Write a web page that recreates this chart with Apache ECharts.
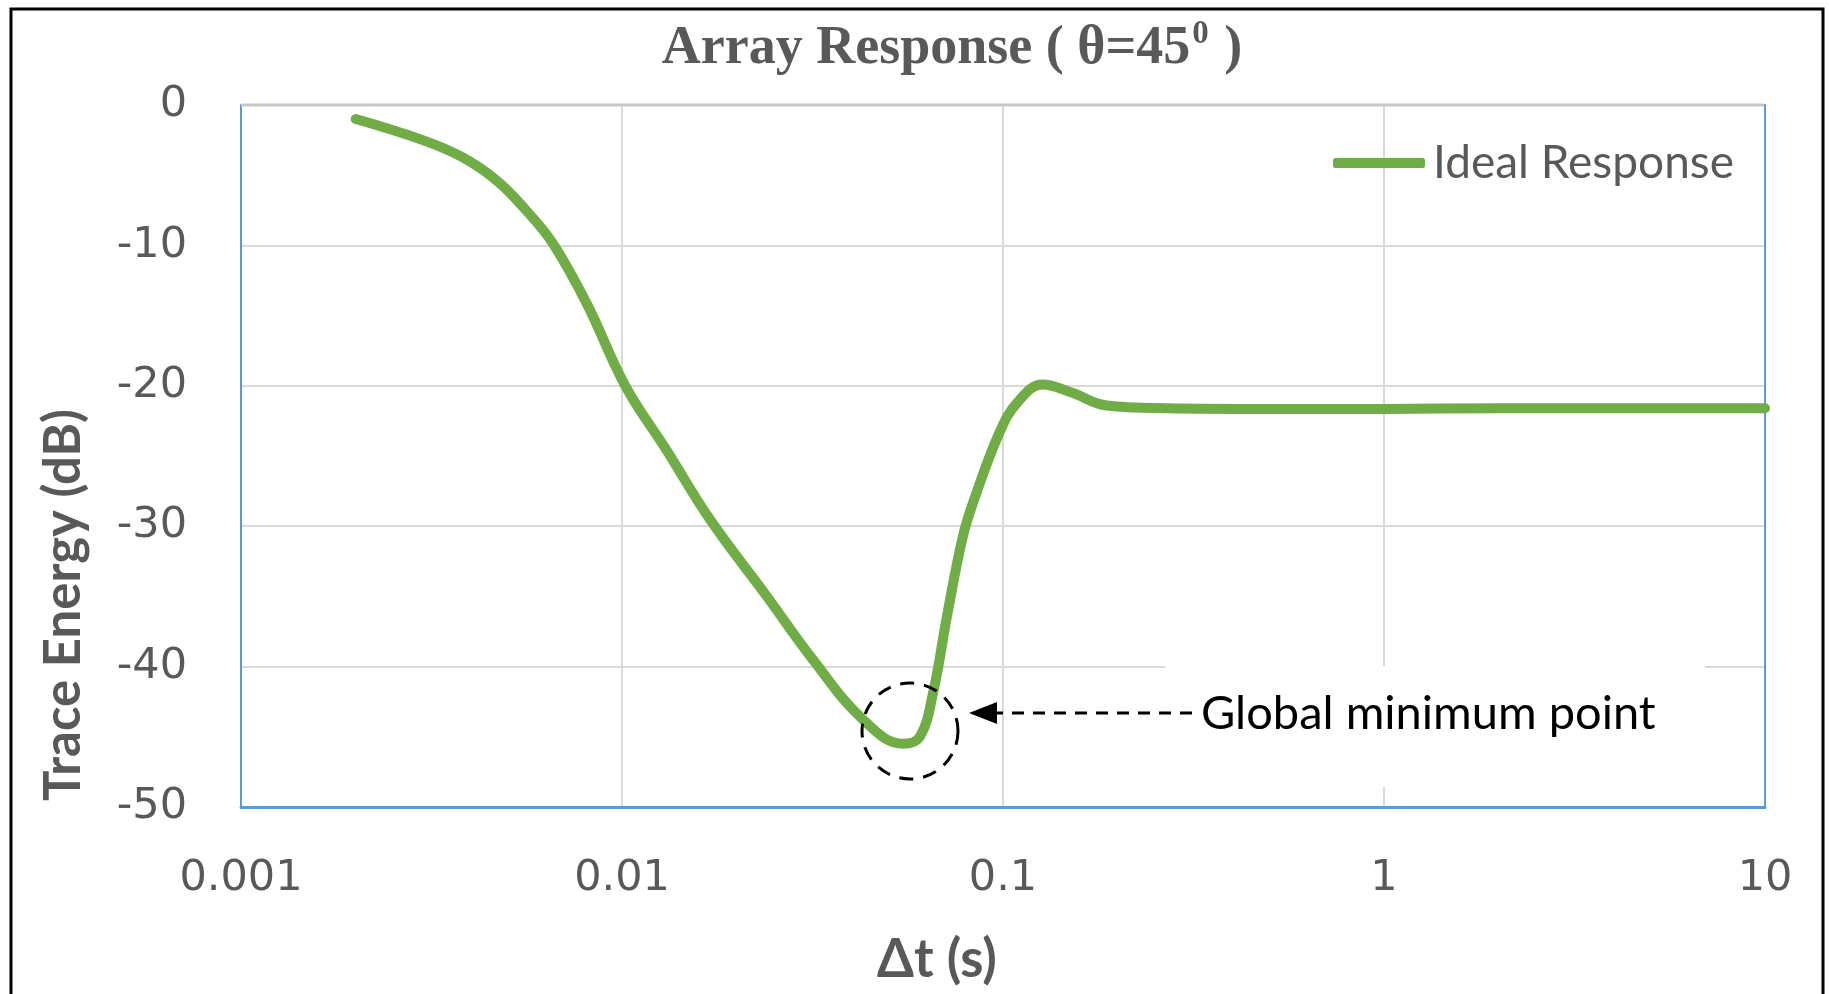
<!DOCTYPE html>
<html>
<head>
<meta charset="utf-8">
<script src="https://cdn.jsdelivr.net/npm/echarts@6/dist/echarts.min.js"></script>
<style>
  html, body { margin: 0; padding: 0; background: #fff; }
  #chart { width: 1829px; height: 994px; }
</style>
</head>
<body>
<div id="chart"></div>
<script>
// Δt (s) sample positions and trace energy (dB)
var dtValues = [0.002, 0.003, 0.0038, 0.0047, 0.0056, 0.0066, 0.0081, 0.0102, 0.0131, 0.017,
  0.024, 0.0317, 0.043, 0.0547, 0.0605, 0.0655, 0.0713, 0.0785, 0.0845, 0.098,
  0.109, 0.127, 0.152, 0.187, 0.27, 0.5, 1, 2, 5, 10];
var energyValues = [-1.0, -2.5, -3.7, -5.4, -7.5, -9.9, -14.2, -20.0, -24.6, -29.5,
  -35.0, -39.5, -43.8, -45.5, -45.0, -41.9, -36.4, -30.7, -27.9, -23.3,
  -21.2, -19.9, -20.5, -21.4, -21.6, -21.65, -21.65, -21.6, -21.6, -21.6];
var xTickLabels = ['0.001', '0.01', '0.1', '1', '10'];
var seriesName = 'Ideal Response';

var lineData = dtValues.map(function(t, i) {
  return [t, energyValues[i]];
});

var grey = '#595959';
var blue = '#5B9BD5';

var option = {
  animation: false,
  backgroundColor: '#fff',
  grid: { left: 241, right: 64, top: 105, bottom: 187 },
  legend: {
    data: [seriesName],
    left: 1328,
    top: 135,
    icon: 'roundRect',
    itemWidth: 92,
    itemHeight: 10,
    textStyle: { fontFamily: 'Lato', fontSize: 46, color: grey, padding: [0, 0, 0, 3] }
  },
  xAxis: {
    type: 'log',
    logBase: 10,
    min: 0.001,
    max: 10,
    axisLine: { show: true, onZero: false, lineStyle: { color: blue, width: 3 } },
    axisTick: { show: false },
    axisLabel: {
      margin: 50,
      fontFamily: 'DejaVu Sans',
      fontSize: 43,
      color: grey,
      formatter: function(v) {
        return xTickLabels[Math.round(Math.log10(v)) + 3];
      }
    },
    splitLine: { show: true, lineStyle: { color: '#d9d9d9', width: 2 } },
    minorTick: { show: false }
  },
  yAxis: [{
    type: 'value',
    min: -50,
    max: 0,
    interval: 10,
    axisLine: { show: true, onZero: false, lineStyle: { color: blue, width: 2 } },
    axisTick: { show: false },
    axisLabel: { margin: 54, fontFamily: 'DejaVu Sans', fontSize: 43, color: grey },
    splitLine: { show: true, lineStyle: { color: '#d9d9d9', width: 2 } }
  }, {
    type: 'value',
    position: 'right',
    min: -50,
    max: 0,
    interval: 10,
    axisLine: { show: true, onZero: false, lineStyle: { color: blue, width: 2 } },
    axisTick: { show: false },
    axisLabel: { show: false },
    splitLine: { show: false }
  }],
  series: [{
    name: seriesName,
    type: 'line',
    data: lineData,
    smooth: 0.4,
    showSymbol: false,
    symbol: 'none',
    color: '#70AD47',
    lineStyle: { color: '#70AD47', width: 10, cap: 'round', join: 'round' },
    z: 5
  }],
  graphic: [
    // outer frame
    { type: 'rect', shape: { x: 11, y: 9, width: 1812, height: 1010 },
      style: { fill: null, stroke: '#000', lineWidth: 3 }, z: 1 },
    // grey top edge of the plot area
    { type: 'line', shape: { x1: 241, y1: 105, x2: 1764, y2: 105 },
      style: { stroke: '#c8c8c8', lineWidth: 3 }, z: 20 },
    // title
    { type: 'text', x: 952, y: 49,
      style: {
        text: '{a|Array Response ( θ=45}{s|0}{a| )}',
        align: 'center', verticalAlign: 'middle',
        rich: {
          a: { fontFamily: 'Liberation Serif', fontWeight: 'bold', fontSize: 54, fill: grey, lineHeight: 62 },
          s: { fontFamily: 'Liberation Serif', fontWeight: 'bold', fontSize: 33, fill: grey, verticalAlign: 'top', lineHeight: 62, padding: [0, 2, 22, 2] }
        }
      }, z: 10 },
    // axis names
    { type: 'text', x: 64, y: 605, rotation: Math.PI / 2,
      style: { text: 'Trace Energy (dB)', align: 'center', verticalAlign: 'middle',
        fontFamily: 'Lato', fontWeight: 'bold', fontSize: 51, fill: grey }, z: 10 },
    { type: 'text', x: 937, y: 960,
      style: { text: 'Δt (s)', align: 'center', verticalAlign: 'middle',
        fontFamily: 'Lato', fontWeight: 'bold', fontSize: 53, fill: grey }, z: 10 },
    // annotation box
    { type: 'rect', shape: { x: 1165, y: 666, width: 540, height: 121 },
      style: { fill: '#fff' }, z: 2 },
    { type: 'text', x: 1201, y: 714,
      style: { text: 'Global minimum point', align: 'left', verticalAlign: 'middle',
        fontFamily: 'Lato', fontSize: 47, fill: '#000' }, z: 10 },
    { type: 'line', shape: { x1: 1192, y1: 713, x2: 992, y2: 713 },
      style: { stroke: '#000', lineWidth: 3, lineDash: [12, 9] }, z: 10 },
    { type: 'polygon', shape: { points: [[969, 713], [997, 702], [997, 724]] },
      style: { fill: '#000' }, z: 10 },
    { type: 'circle', shape: { cx: 910, cy: 731, r: 48 },
      style: { fill: null, stroke: '#000', lineWidth: 3, lineDash: [14, 10] }, z: 10 }
  ]
};

var chart = echarts.init(document.getElementById('chart'));
chart.setOption(option);
</script>
</body>
</html>
